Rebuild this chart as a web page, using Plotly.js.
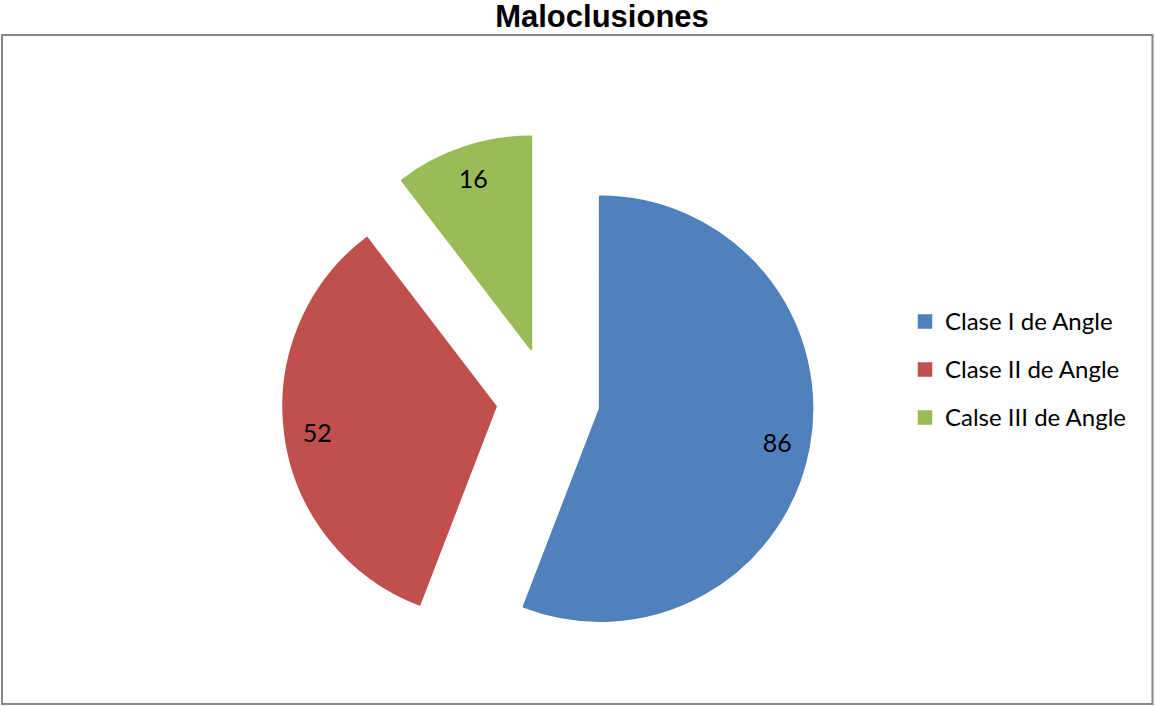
<!DOCTYPE html>
<html>
<head>
<meta charset="utf-8">
<script src="https://cdn.plot.ly/plotly-3.0.1.min.js"></script>
<style>
  html, body { margin: 0; padding: 0; background: #ffffff; }
  #chart { width: 1155px; height: 706px; }
</style>
</head>
<body>
<div id="chart"></div>
<script>
// ---- data ----
const categories = ['Clase I de Angle', 'Clase II de Angle', 'Calse III de Angle'];
const counts = [86, 52, 16];
const chartTitle = 'Maloclusiones';

// ---- styles ----
const sliceColors = ['#4F81BD', '#C0504D', '#9BBB59'];
const W = 1155, H = 706;

// pie domain: centre and box size in pixels, converted to paper fractions
const cx = 548, cy = 399, box = 530;
const dx0 = (cx - box / 2) / W, dx1 = (cx + box / 2) / W;
const ysum = 2 - 2 * cy / H;
const dy0 = (ysum - box / H) / 2, dy1 = (ysum + box / H) / 2;

const legendLabels = categories.map(c =>
  '<span style="font-size:24px;baseline-shift:5px">' + c + '</span>');
const pullAll = categories.map(() => 0.25);

// filled slices (carry the legend)
const slices = {
  type: 'pie',
  labels: legendLabels,
  values: counts,
  textinfo: 'none',
  hoverinfo: 'label+value',
  sort: false,
  direction: 'clockwise',
  rotation: 0,
  pull: pullAll,
  marker: { colors: sliceColors, line: { color: sliceColors, width: 2.5 } },
  domain: { x: [dx0, dx1], y: [dy0, dy1] }
};

// transparent ring over the same slices, used only to place the value labels
// near the outer edge of each slice (as in the original)
const valueLabels = {
  type: 'pie',
  labels: legendLabels,
  values: counts,
  text: counts.map(String),
  textinfo: 'text',
  hoverinfo: 'skip',
  showlegend: false,
  sort: false,
  direction: 'clockwise',
  rotation: 0,
  pull: pullAll,
  hole: 0.7,
  marker: { colors: categories.map(() => 'rgba(0,0,0,0)'), line: { width: 0 } },
  textposition: 'inside',
  insidetextorientation: 'horizontal',
  textfont: { family: 'Lato, "Open Sans", sans-serif', size: 25, color: '#000000' },
  domain: { x: [dx0, dx1], y: [dy0, dy1] }
};

const titleSize = 31;
const layout = {
  width: W,
  height: H,
  margin: { l: 0, r: 0, t: 0, b: 0, pad: 0 },
  paper_bgcolor: '#ffffff',
  plot_bgcolor: '#ffffff',
  showlegend: true,
  title: {
    text: chartTitle,
    font: { family: '"Liberation Sans", Arial, sans-serif', size: titleSize, color: '#000000', weight: 700 },
    x: 602 / W,
    xref: 'paper',
    xanchor: 'center',
    y: 1 - (27.3 - 0.35 * titleSize) / H,
    yref: 'container',
    yanchor: 'middle',
    automargin: false
  },
  legend: {
    x: 905 / W,
    xanchor: 'left',
    y: (H - 369.5) / H,
    yanchor: 'middle',
    bgcolor: 'rgba(0,0,0,0)',
    borderwidth: 0,
    font: { family: 'Lato, "Open Sans", sans-serif', size: 34.6, color: '#000000' },
    traceorder: 'normal'
  },
  shapes: [{
    type: 'rect',
    xref: 'paper', yref: 'paper',
    x0: 2 / W, x1: 1152.5 / W,
    y0: 2 / H, y1: (H - 35) / H,
    line: { color: '#878787', width: 2 },
    fillcolor: 'rgba(0,0,0,0)',
    layer: 'above'
  }]
};

Plotly.newPlot('chart', [slices, valueLabels], layout, { displayModeBar: false, staticPlot: true });
</script>
</body>
</html>
